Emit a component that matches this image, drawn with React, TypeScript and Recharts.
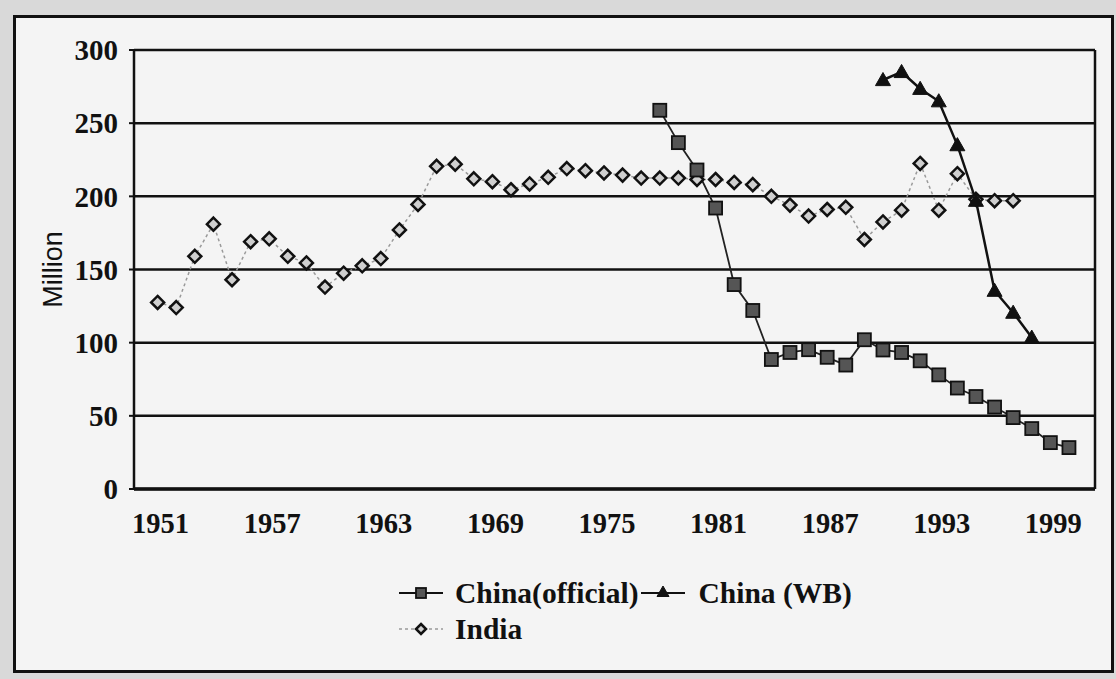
import { CartesianGrid, Legend, Line, LineChart, ReferenceLine, XAxis, YAxis } from "recharts";

const indiaStart = 1951;
const indiaValues = [
  127.5, 124, 159, 181, 143, 169, 171, 159, 154.5, 138,
  147.5, 152.5, 157.5, 177, 194.5, 220.5, 222, 212, 210, 204.5,
  208.5, 213, 219, 217.5, 216, 214.5, 212.5, 212.5, 212.5, 211.5,
  211.5, 209.5, 208, 200, 194, 186.5, 191, 192.5, 170.5, 182.5,
  190.5, 222.5, 190.5, 215.5, 198, 197, 197,
];

const officialStart = 1978;
const officialValues = [
  258.8, 236.7, 218, 192, 139.7, 122, 88.5, 93.3, 95.2, 90,
  84.7, 102, 95, 93.3, 87.6, 78, 69, 63.2, 56, 48.8,
  41.3, 31.7, 28.3,
];

const wbStart = 1990;
const wbValues = [279.5, 285, 273.5, 265, 235, 197, 135.5, 120.5, 103.5];

const xTicks = [1951, 1957, 1963, 1969, 1975, 1981, 1987, 1993, 1999];
const yTicks = [0, 50, 100, 150, 200, 250, 300];
const xDomain: [number, number] = [1949.73, 2001.4];

const firstYear = 1951;
const lastYear = 2000;

const pick = (values: number[], start: number, year: number) => {
  const v = values[year - start];
  return v === undefined ? null : v;
};

const data = Array.from({ length: lastYear - firstYear + 1 }, (_, i) => {
  const year = firstYear + i;
  return {
    year,
    india: pick(indiaValues, indiaStart, year),
    official: pick(officialValues, officialStart, year),
    wb: pick(wbValues, wbStart, year),
  };
});

const serif = "'Liberation Serif', 'Times New Roman', serif";
const sans = "'Liberation Sans', Arial, sans-serif";

const Diamond = ({ cx, cy, s = 6.5 }: { cx: number; cy: number; s?: number }) => (
  <path
    d={`M${cx},${cy - s}L${cx + s},${cy}L${cx},${cy + s}L${cx - s},${cy}Z`}
    fill="#cfcfcf"
    stroke="#111"
    strokeWidth={2.5}
  />
);

const Square = ({ cx, cy, s = 6.5 }: { cx: number; cy: number; s?: number }) => (
  <rect x={cx - s} y={cy - s} width={s * 2} height={s * 2} fill="#555" stroke="#111" strokeWidth={1.8} />
);

const Triangle = ({ cx, cy, s = 7.5 }: { cx: number; cy: number; s?: number }) => (
  <path d={`M${cx},${cy - s}L${cx + s},${cy + s * 0.75}L${cx - s},${cy + s * 0.75}Z`} fill="#111" stroke="#111" strokeWidth={1} />
);

const makeDot = (Shape: typeof Diamond) => (props: any) => {
  const { cx, cy, index, value } = props;
  if (value == null || cx == null || cy == null) return <g key={`e-${index}`} />;
  return <Shape key={`d-${index}`} cx={cx} cy={cy} />;
};

const legendRows = [
  [
    { key: "official", name: "China(official)" },
    { key: "wb", name: "China (WB)" },
  ],
  [{ key: "india", name: "India" }],
];

const LegendIcon = ({ kind }: { kind: string }) => (
  <svg width={50} height={20} style={{ display: "block" }}>
    {kind === "india" ? (
      <>
        <line x1={2} y1={10} x2={46} y2={10} stroke="#999" strokeWidth={1.5} strokeDasharray="3 3" />
        <Diamond cx={24} cy={10} s={5} />
      </>
    ) : kind === "official" ? (
      <>
        <line x1={2} y1={10} x2={46} y2={10} stroke="#111" strokeWidth={1.8} />
        <Square cx={24} cy={10} s={5} />
      </>
    ) : (
      <>
        <line x1={0} y1={10} x2={44} y2={10} stroke="#111" strokeWidth={2.2} />
        <Triangle cx={22} cy={9} s={6} />
      </>
    )}
  </svg>
);

const renderLegend = () => (
  <div style={{ fontFamily: serif, fontWeight: "bold", fontSize: 29.5, color: "#111" }}>
    {legendRows.map((row, r) => (
      <div key={r} style={{ display: "flex", alignItems: "center", height: 36 }}>
        {row.map((item) => (
          <div key={item.key} style={{ display: "flex", alignItems: "center", marginRight: 2 }}>
            <LegendIcon kind={item.key} />
            <span style={{ marginLeft: 8, whiteSpace: "nowrap" }}>{item.name}</span>
          </div>
        ))}
      </div>
    ))}
  </div>
);

const YLabel = (props: any) => {
  const vb = props.viewBox || { x: 0, y: 0, height: 0 };
  const x = vb.x + 53;
  const y = vb.y + vb.height / 2;
  return (
    <text x={x} y={y} transform={`rotate(-90, ${x}, ${y})`} textAnchor="middle" dominantBaseline="central" fontFamily={sans} fontSize={27} fill="#111">
      Million
    </text>
  );
};

export default function App() {
  return (
    <div style={{ position: "absolute", left: 0, top: 0, width: 1116, height: 679, background: "#d9d9d9", overflow: "hidden" }}>
      <div
        style={{
          position: "absolute",
          left: 13,
          top: 15,
          width: 1101,
          height: 658,
          boxSizing: "border-box",
          border: "3px solid #111",
          background: "#f4f4f4",
        }}
      />
      <div style={{ position: "absolute", left: 0, top: 0 }}>
        <LineChart width={1116} height={679} data={data} margin={{ top: 50, right: 21, bottom: 130, left: 0 }}>
          <CartesianGrid vertical={false} stroke="#111" strokeWidth={2.5} />
          <XAxis
            type="number"
            dataKey="year"
            domain={xDomain}
            ticks={xTicks}
            allowDataOverflow
            height={60}
            tickLine={false}
            tickSize={0}
            tickMargin={24}
            axisLine={{ stroke: "#111", strokeWidth: 3.5 }}
            tick={{ fontFamily: serif, fontWeight: "bold", fontSize: 28.5, fill: "#111", dx: 3 }}
          />
          <YAxis
            domain={[0, 300]}
            ticks={yTicks}
            width={134}
            tickSize={5}
            tickMargin={11}
            axisLine={{ stroke: "#111", strokeWidth: 2.5 }}
            tickLine={{ stroke: "#111", strokeWidth: 2 }}
            tick={{ fontFamily: serif, fontWeight: "bold", fontSize: 29, fill: "#111" }}
            label={{ content: YLabel }}
          />
          <ReferenceLine x={xDomain[1]} stroke="#111" strokeWidth={2.5} />
          <Line
            dataKey="india"
            name="India"
            stroke="#9a9a9a"
            strokeWidth={1.5}
            strokeDasharray="3 3"
            dot={makeDot(Diamond)}
            activeDot={false}
            isAnimationActive={false}
          />
          <Line
            dataKey="official"
            name="China(official)"
            stroke="#222"
            strokeWidth={1.8}
            dot={makeDot(Square)}
            activeDot={false}
            isAnimationActive={false}
          />
          <Line
            dataKey="wb"
            name="China (WB)"
            stroke="#111"
            strokeWidth={2.5}
            dot={makeDot(Triangle)}
            activeDot={false}
            isAnimationActive={false}
          />
          <Legend
            verticalAlign="middle"
            align="center"
            content={renderLegend}
            wrapperStyle={{ top: 575, left: 397, width: 540, height: 76 }}
          />
        </LineChart>
      </div>
    </div>
  );
}
